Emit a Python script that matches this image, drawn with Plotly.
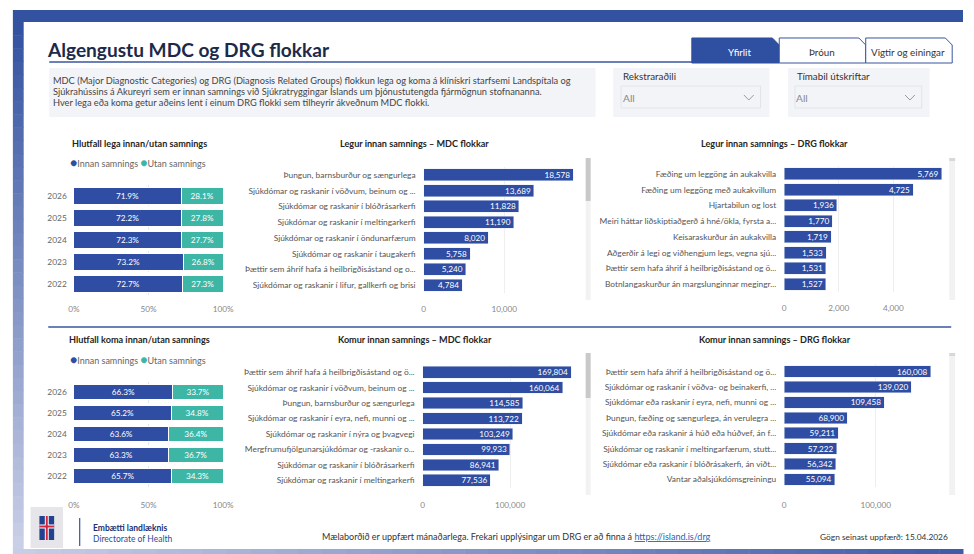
import plotly.graph_objects as go

W, H = 974, 554
FONT = "Lato, 'Open Sans', sans-serif"
NAVY = "#2f4da2"
TEAL = "#3db6a6"

# ---------------- data ----------------
years = ["2026", "2025", "2024", "2023", "2022"]
legur_innan = [71.9, 72.2, 72.3, 73.2, 72.7]
legur_utan = [28.1, 27.8, 27.7, 26.8, 27.3]
komur_innan = [66.3, 65.2, 63.6, 63.3, 65.7]
komur_utan = [33.7, 34.8, 36.4, 36.7, 34.3]

legur_mdc_labels = [
    "Þungun, barnsburður og sængurlega",
    "Sjúkdómar og raskanir í vöðvum, beinum og ...",
    "Sjúkdómar og raskanir í blóðrásarkerfi",
    "Sjúkdómar og raskanir í meltingarkerfi",
    "Sjúkdómar og raskanir í öndunarfærum",
    "Sjúkdómar og raskanir í taugakerfi",
    "Þættir sem áhrif hafa á heilbrigðisástand og o...",
    "Sjúkdómar og raskanir í lifur, gallkerfi og brisi",
]
legur_mdc_values = [18578, 13689, 11828, 11190, 8020, 5758, 5240, 4784]

legur_drg_labels = [
    "Fæðing um leggöng án aukakvilla",
    "Fæðing um leggöng með aukakvillum",
    "Hjartabilun og lost",
    "Meiri háttar liðskiptiaðgerð á hné/ökla, fyrsta a...",
    "Keisaraskurður án aukakvilla",
    "Aðgerðir á legi og viðhengjum legs, vegna sjú...",
    "Þættir sem hafa áhrif á heilbrigðisástand og ö...",
    "Botnlangaskurður án margslunginnar megingr...",
]
legur_drg_values = [5769, 4725, 1936, 1770, 1719, 1533, 1531, 1527]

komur_mdc_labels = [
    "Þættir sem áhrif hafa á heilbrigðisástand og ö...",
    "Sjúkdómar og raskanir í vöðvum, beinum og ...",
    "Þungun, barnsburður og sængurlega",
    "Sjúkdómar og raskanir í eyra, nefi, munni og ...",
    "Sjúkdómar og raskanir í nýra og þvagvegi",
    "Mergfrumufjölgunarsjúkdómar og -raskanir o...",
    "Sjúkdómar og raskanir í blóðrásarkerfi",
    "Sjúkdómar og raskanir í meltingarkerfi",
]
komur_mdc_values = [169804, 160064, 114585, 113722, 103249, 99933, 86941, 77536]

komur_drg_labels = [
    "Þættir sem hafa áhrif á heilbrigðisástand og ö...",
    "Sjúkdómar og raskanir í vöðva- og beinakerfi, ...",
    "Sjúkdómar eða raskanir í eyra, nefi, munni og ...",
    "Þungun, fæðing og sængurlega, án verulegra ...",
    "Sjúkdómar eða raskanir á húð eða húðvef, án f...",
    "Sjúkdómar og raskanir í meltingarfærum, stutt...",
    "Sjúkdómar eða raskanir í blóðrásakerfi, án viðt...",
    "Vantar aðalsjúkdómsgreiningu",
]
komur_drg_values = [160008, 139020, 109458, 68900, 59211, 57222, 56342, 55094]

pct_ticks = [0, 50, 100]
pct_ticktext = ["0%", "50%", "100%"]


def fx(x):
    return x / W


def fy(y):
    return 1 - y / H


fig = go.Figure()
layout_axes = {}


def axname(n):
    return "" if n == 1 else str(n)


def add_pct(n, innan, utan, dom_x, dom_y, standoff):
    a = axname(n)
    for vals, col in ((innan, NAVY), (utan, TEAL)):
        fig.add_trace(go.Bar(
            y=years, x=vals, orientation="h",
            marker=dict(color=col, line=dict(color="white", width=1)),
            text=[f"{v:.1f}%" for v in vals], textposition="inside",
            insidetextanchor="middle",
            textfont=dict(color="white", size=8.2, family=FONT),
            xaxis="x" + a, yaxis="y" + a, showlegend=False, hoverinfo="skip"))
    layout_axes["xaxis" + a] = dict(
        domain=[fx(dom_x[0]), fx(dom_x[1])], range=[0, 100], anchor="y" + a,
        tickvals=pct_ticks, ticktext=pct_ticktext, showgrid=True,
        gridcolor="#e6e6e6", griddash="dot", zeroline=False, showline=False,
        tickfont=dict(size=8.2, color="#888", family=FONT), ticklabelstandoff=standoff)
    layout_axes["yaxis" + a] = dict(
        domain=[fy(dom_y[1]), fy(dom_y[0])], anchor="x" + a, autorange="reversed",
        type="category", showgrid=False, zeroline=False, showline=False,
        tickfont=dict(size=8.4, color="#666", family=FONT), ticklabelstandoff=6)


def add_bar(n, labels, values, dom_x, dom_y, xmax, tickvals, ticktext, standoff):
    a = axname(n)
    fig.add_trace(go.Bar(
        y=labels, x=values, orientation="h", marker=dict(color=NAVY),
        texttemplate="%{x:,}", textposition="inside", insidetextanchor="end",
        textfont=dict(color="white", size=8.2, family=FONT),
        xaxis="x" + a, yaxis="y" + a, showlegend=False, hoverinfo="skip"))
    layout_axes["xaxis" + a] = dict(
        domain=[fx(dom_x[0]), fx(dom_x[1])], range=[0, xmax], anchor="y" + a,
        tickvals=tickvals, ticktext=ticktext, showgrid=True,
        gridcolor="#eeeeee", zeroline=False, showline=False,
        tickfont=dict(size=8.2, color="#888", family=FONT), ticklabelstandoff=standoff)
    layout_axes["yaxis" + a] = dict(
        domain=[fy(dom_y[1]), fy(dom_y[0])], anchor="x" + a, autorange="reversed",
        type="category", showgrid=False, zeroline=False, showline=False,
        tickfont=dict(size=8.4, color="#555", family=FONT), ticklabelstandoff=7)


add_pct(1, legur_innan, legur_utan, (69, 221), (185, 295), 8)
add_bar(2, legur_mdc_labels, legur_mdc_values, (425, 585), (167, 293), 19500,
        [0, 10000], ["0", "10,000"], 10)
add_bar(3, legur_drg_labels, legur_drg_values, (792, 955), (166, 292), 5870,
        [0, 2000, 4000], ["0", "2,000", "4,000"], 10)
add_pct(4, komur_innan, komur_utan, (69, 221), (381.5, 486.5), 12)
add_bar(5, komur_mdc_labels, komur_mdc_values, (424, 585), (364.5, 488), 180900,
        [0, 100000], ["0", "100,000"], 11)
add_bar(6, komur_drg_labels, komur_drg_values, (792, 955), (364, 487), 175000,
        [0, 100000], ["0", "100,000"], 12)

shapes = []
annotations = []


def rect(x0, y0, x1, y1, fill, line=None, lw=0, layer="below"):
    shapes.append(dict(type="rect", xref="paper", yref="paper",
                       x0=fx(x0), x1=fx(x1), y0=fy(y1), y1=fy(y0),
                       fillcolor=fill, line=dict(color=line or fill, width=lw),
                       layer=layer))


def line(x0, y0, x1, y1, color, w):
    shapes.append(dict(type="line", xref="paper", yref="paper",
                       x0=fx(x0), x1=fx(x1), y0=fy(y0), y1=fy(y1),
                       line=dict(color=color, width=w), layer="below"))


def text(x, y, s, size=9, color="#444", xanchor="left", bold=False):
    if bold:
        s = "<b>" + s + "</b>"
    annotations.append(dict(xref="paper", yref="paper", x=fx(x), y=fy(y),
                            text=s, showarrow=False, xanchor=xanchor, yanchor="middle",
                            borderpad=0,
                            font=dict(size=size, color=color, family=FONT)))


def lerp(c1, c2, t):
    r = [int(round(c1[i] + (c2[i] - c1[i]) * t)) for i in range(3)]
    return "rgb(%d,%d,%d)" % tuple(r)


# frame
rect(7, 10, 974, 22, "#3352a0")
n_seg = 40
top_c, bot_c = (51, 82, 160), (205, 210, 232)
for i in range(n_seg):
    y0 = 22 + (549 - 22) * i / n_seg
    y1 = 22 + (549 - 22) * (i + 1) / n_seg + 0.5
    rect(7, y0, 18, y1, lerp(top_c, bot_c, i / n_seg))
for i in range(n_seg):
    x0 = 7 + (974 - 7) * i / n_seg
    x1 = 7 + (974 - 7) * (i + 1) / n_seg + 0.5
    rect(x0, 549, x1, 554, lerp((200, 205, 230), (60, 88, 165), i / n_seg))

# title
text(41, 50, "Algengustu MDC og DRG flokkar", size=19.1, color="#1c2a4a", bold=True)
line(44, 62, 963, 62, "#3a55a0", 1.5)

# tabs
def tab_path(x0, x1, y0=38, y1=63, bev=7):
    pts = [(x0, y1), (x0, y0), (x1 - bev, y0), (x1, y0 + bev), (x1, y1)]
    return "M " + " L ".join(f"{fx(a):.5f},{fy(b):.5f}" for a, b in pts) + " Z"


shapes.append(dict(type="path", xref="paper", yref="paper", path=tab_path(698, 787),
                   fillcolor="#2f4fa0", line=dict(color="#2f4fa0", width=1), layer="below"))
shapes.append(dict(type="path", xref="paper", yref="paper", path=tab_path(787, 875),
                   fillcolor="white", line=dict(color="#3a55a0", width=1), layer="below"))
shapes.append(dict(type="path", xref="paper", yref="paper", path=tab_path(875, 963),
                   fillcolor="white", line=dict(color="#3a55a0", width=1), layer="below"))
text(747, 52, "Yfirlit", size=9.8, color="white", xanchor="center")
text(830, 52, "Þróun", size=9.8, color="#333", xanchor="center")
text(918, 52, "Vigtir og einingar", size=9.8, color="#333", xanchor="center")

# description box
rect(44, 68, 600, 117, "#f3f4f8")
text(47, 80, "MDC (Major Diagnostic Categories) og DRG (Diagnosis Related Groups) flokkun lega og koma á klínískri starfsemi Landspítala og", size=9.25)
text(47, 91.5, "Sjúkrahússins á Akureyri sem er innan samnings við Sjúkratryggingar Íslands um þjónustutengda fjármögnun stofnananna.", size=9.25)
text(47, 103, "Hver lega eða koma getur aðeins lent í einum DRG flokki sem tilheyrir ákveðnum MDC flokki.", size=9.25)

# filters
for bx0, bx1, ix0, ix1, lab in ((618, 777, 626, 768, "Rekstraraðili"),
                                (796, 940, 803, 932, "Tímabil útskriftar")):
    rect(bx0, 68, bx1, 117, "#f3f4f8")
    rect(ix0, 86, ix1, 108, "#f3f4f8", line="#e2e3e8", lw=1)
    text(bx0 + 8.5, 76, lab, size=9.8, color="#333")
    text(ix0 + 0.5, 98, "All", size=10.2, color="#888")
    cx = ix1 - 12
    shapes.append(dict(type="path", xref="paper", yref="paper",
                       path=f"M {fx(cx-5):.5f},{fy(95):.5f} L {fx(cx):.5f},{fy(100):.5f} L {fx(cx+5):.5f},{fy(95):.5f}",
                       line=dict(color="#999", width=1), layer="below"))

# section separator
line(43, 327, 962, 327, "#3a55a0", 1.5)

# chart titles
for cx, cy, t in ((136, 144, "Hlutfall lega innan/utan samnings"),
                  (416, 144, "Legur innan samnings – MDC flokkar"),
                  (782, 144, "Legur innan samnings – DRG flokkar"),
                  (136, 339, "Hlutfall koma innan/utan samnings"),
                  (416, 339, "Komur innan samnings – MDC flokkar"),
                  (783, 339, "Komur innan samnings – DRG flokkar")):
    text(cx, cy, t, size=9.1, color="#252423", xanchor="center", bold=True)

legend_txt = (f"<span style='color:{NAVY};font-size:12px'>●</span>Innan samnings "
              f"<span style='color:{TEAL};font-size:12px'>●</span>Utan samnings")
text(134, 163, legend_txt, size=9, color="#666", xanchor="center")
text(134, 359, legend_txt, size=9, color="#666", xanchor="center")

# scrollbars
for (sx0, sx1, ty0, ty1, th0, th1, tcol) in ((590, 595, 158, 300, 158, 201, "#c9c9c9"),
                                              (960, 966, 158, 300, 158, 161, "#d8d8d8"),
                                              (590, 595, 353, 495, 353, 398, "#c9c9c9"),
                                              (960, 966, 353, 495, 353, 356, "#d8d8d8")):
    rect(sx0, ty0, sx1, ty1, "#f2f2f2")
    rect(sx0, th0, sx1, th1, tcol)

# footer logo (simplified coat of arms)
rect(25, 507, 58, 548, "#e6e6ea")
rect(34, 516, 49, 540, "#22418f")
rect(39.5, 516, 43.5, 540, "white")
rect(34, 524.5, 49, 528.5, "white")
rect(40.5, 516, 42.5, 540, "#d0253a")
rect(34, 525.5, 49, 527.5, "#d0253a")
line(75, 518, 75, 546, "#3a55a0", 1.2)
text(88, 528, "Embætti landlæknis", size=8.5, color="#1c2f6e", bold=True)
text(88, 539, "Directorate of Health", size=8.5, color="#2c4a9a")
text(520, 536,
     "Mælaborðið er uppfært mánaðarlega. Frekari upplýsingar um DRG er að finna á "
     "<span style='color:#2a5fb8'><u>https://island.is/drg</u></span>",
     size=9, color="#333", xanchor="center")
text(894, 537, "Gögn seinast uppfærð: 15.04.2026", size=8.4, color="#333", xanchor="center")

fig.update_layout(
    width=W, height=H, margin=dict(l=0, r=0, t=0, b=0),
    paper_bgcolor="white", plot_bgcolor="rgba(0,0,0,0)",
    barmode="stack", bargap=0.25, showlegend=False,
    font=dict(family=FONT),
    shapes=shapes, annotations=annotations,
    uniformtext=dict(mode="show", minsize=7.5),
    **layout_axes,
)

fig.write_html(
    "out.html",
    config={"displayModeBar": False, "responsive": False},
    post_script=("document.documentElement.style.margin='0';"
                 "document.body.style.margin='0';"
                 "document.documentElement.style.overflow='hidden';"
                 "document.body.style.overflow='hidden';"),
)
